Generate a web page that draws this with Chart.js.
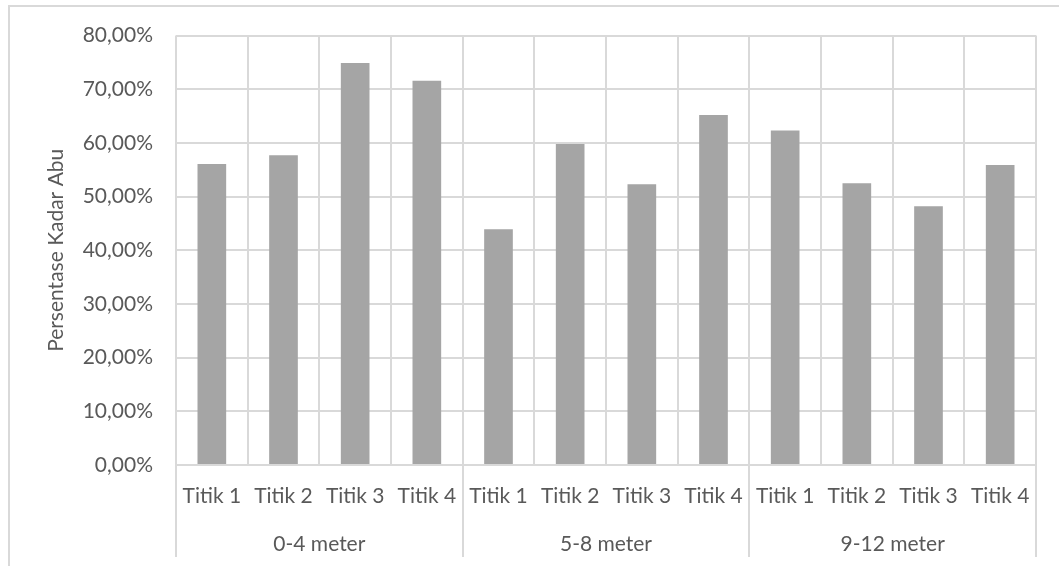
<!DOCTYPE html>
<html lang="id">
<head>
  <meta charset="UTF-8" />
  <title>Persentase Kadar Abu</title>
  <script src="https://cdn.jsdelivr.net/npm/chart.js"></script>
  <style>
    html, body { margin: 0; padding: 0; background: #fff; overflow: hidden; }
    .frame {
      position: absolute; left: 8px; top: 5px;
      width: 1200px; height: 700px;
      border: 2px solid #D9D9D9;
    }
    .chart-box {
      position: absolute; left: 0; top: 0;
      width: 1059px; height: 566px;
    }
  </style>
</head>
<body>

  <div class="frame"></div>
  <div class="chart-box">
    <canvas id="abuChart"></canvas>
  </div>

  <script>
    // data
    const points = ['Titik 1', 'Titik 2', 'Titik 3', 'Titik 4',
                    'Titik 1', 'Titik 2', 'Titik 3', 'Titik 4',
                    'Titik 1', 'Titik 2', 'Titik 3', 'Titik 4'];
    const depths = ['0-4 meter', '5-8 meter', '9-12 meter'];
    const kadarAbu = [56.1, 57.7, 74.9, 71.6,
                      43.9, 59.8, 52.3, 65.2,
                      62.3, 52.5, 48.2, 55.9];
    const perGroup = 4;

    const gridColor = '#D9D9D9';
    const textColor = '#595959';
    const fontFamily = 'Lato, "Open Sans", sans-serif';

    // lines between depth groups, running below the axis
    const groupLines = {
      id: 'groupLines',
      afterDraw(chart) {
        const x = chart.scales.x;
        const area = chart.chartArea;
        const half = (x.getPixelForValue(1) - x.getPixelForValue(0)) / 2;
        const ctx = chart.ctx;
        ctx.save();
        ctx.strokeStyle = gridColor;
        ctx.lineWidth = 2;
        for (let i = 0; i <= points.length; i += perGroup) {
          const px = i < points.length ? x.getPixelForValue(i) - half
                                        : x.getPixelForValue(i - 1) + half;
          ctx.beginPath();
          ctx.moveTo(Math.round(px), area.bottom);
          ctx.lineTo(Math.round(px), 557);
          ctx.stroke();
        }
        ctx.restore();
      }
    };

    const ctx = document.getElementById('abuChart').getContext('2d');
    new Chart(ctx, {
      type: 'bar',
      data: {
        labels: points,
        datasets: [{
          label: 'Kadar Abu',
          data: kadarAbu,
          backgroundColor: '#A5A5A5',
          categoryPercentage: 1,
          barPercentage: 0.4
        }]
      },
      options: {
        responsive: true,
        maintainAspectRatio: false,
        animation: false,
        layout: { padding: { top: 35, right: 23, left: 0, bottom: 0 } },
        plugins: {
          legend: { display: false },
          tooltip: { enabled: false }
        },
        scales: {
          x: {
            position: 'bottom',
            grid: { offset: true, color: gridColor, lineWidth: 2, drawTicks: false },
            border: { color: gridColor, width: 2 },
            ticks: {
              color: textColor,
              font: { family: fontFamily, size: 21 },
              padding: 19,
              maxRotation: 0,
              autoSkip: false
            },
            afterFit(scale) { scale.height = 55; }
          },
          group: {
            type: 'category',
            position: 'bottom',
            labels: depths,
            offset: true,
            grid: { display: false, drawTicks: false },
            border: { display: false },
            ticks: {
              color: textColor,
              font: { family: fontFamily, size: 21 },
              padding: 12,
              maxRotation: 0
            },
            afterFit(scale) { scale.height = 46; }
          },
          y: {
            min: 0,
            max: 80,
            grid: { color: gridColor, lineWidth: 2, drawTicks: false },
            border: { display: false },
            ticks: {
              stepSize: 10,
              color: textColor,
              font: { family: fontFamily, size: 21 },
              padding: 23,
              callback: v => v.toFixed(2).replace('.', ',') + '%'
            },
            title: {
              display: true,
              text: 'Persentase Kadar Abu',
              color: textColor,
              font: { family: fontFamily, size: 21 },
              padding: { top: 44, bottom: 0 }
            },
            afterFit(scale) { scale.width = 176; }
          }
        }
      },
      plugins: [groupLines]
    });
  </script>

</body>
</html>
